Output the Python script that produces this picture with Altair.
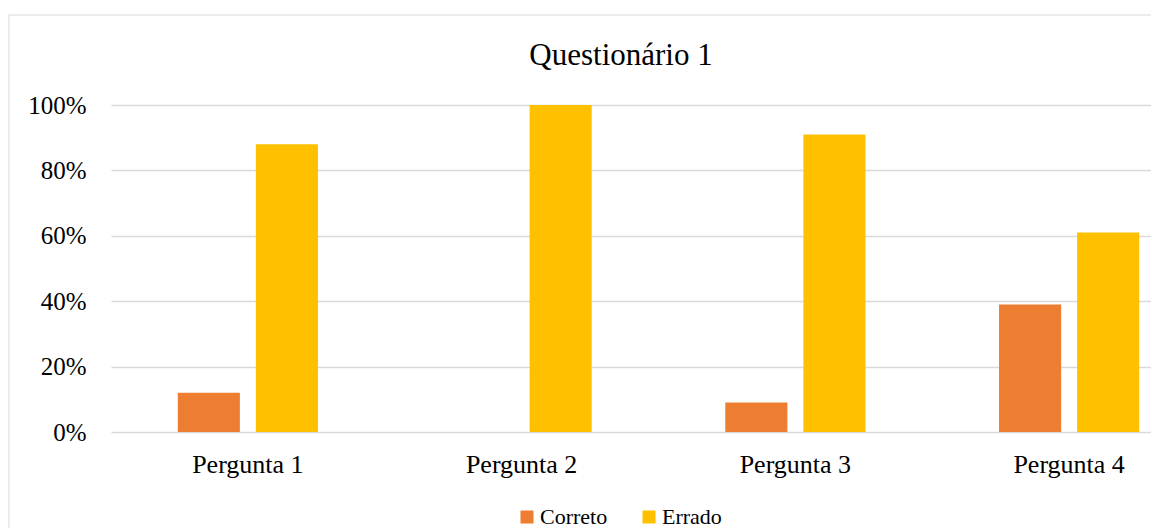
import altair as alt
import pandas as pd

categories = ["Pergunta 1", "Pergunta 2", "Pergunta 3", "Pergunta 4"]
series = ["Correto", "Errado"]
correto = [0.12, 0.0, 0.09, 0.39]
errado = [0.88, 1.0, 0.91, 0.61]
colors = ["#ED7D31", "#FFC000"]
y_ticks = [0, 0.2, 0.4, 0.6, 0.8, 1.0]
title_text = "Questionário 1"

rows = []
for c, a, b in zip(categories, correto, errado):
    rows.append({"cat": c, "serie": series[0], "v": a})
    rows.append({"cat": c, "serie": series[1], "v": b})
df = pd.DataFrame(rows)

FONT = "Liberation Serif"
GRID = "#D9D9D9"

one = pd.DataFrame({"a": [0]})

frame = alt.Chart(one).mark_rect(
    filled=False, stroke=GRID, strokeWidth=1
).encode(
    x=alt.value(-102), x2=alt.value(1300), y=alt.value(-90), y2=alt.value(700)
)

title = alt.Chart(one).mark_text(
    font=FONT, fontSize=31, color="#000000", align="center", baseline="alphabetic"
).encode(
    x=alt.value(510), y=alt.value(-40), text=alt.value(title_text)
)

bars = alt.Chart(df).mark_bar().encode(
    x=alt.X(
        "cat:N", sort=categories,
        scale=alt.Scale(range=[0, 1095], paddingInner=0.488, paddingOuter=0.244),
        axis=alt.Axis(title=None, labelAngle=0, domain=False, ticks=False, grid=False,
                      labelFontSize=26, labelPadding=19, labelFont=FONT, labelColor="#000000"),
    ),
    xOffset=alt.XOffset("serie:N", sort=series,
                        scale=alt.Scale(paddingInner=0.205, paddingOuter=0)),
    y=alt.Y(
        "v:Q", scale=alt.Scale(domain=[0, 1]),
        axis=alt.Axis(title=None, values=y_ticks, format=".0%", domain=False, ticks=False,
                      grid=True, gridColor=GRID, gridWidth=1.3,
                      labelFontSize=25, labelPadding=25, labelFont=FONT, labelColor="#000000"),
    ),
    color=alt.Color(
        "serie:N", sort=series,
        scale=alt.Scale(domain=series, range=colors),
        legend=alt.Legend(title=None, orient="none", legendX=405, legendY=401,
                          direction="horizontal", symbolType="square", symbolSize=169,
                          symbolStrokeWidth=0, labelFontSize=22, labelFont=FONT,
                          labelColor="#000000", labelOffset=2, columnPadding=30, padding=0),
    ),
)

chart = alt.layer(frame, title, bars).properties(
    width=1040, height=327,
    autosize=alt.AutoSizeParams(type="none"),
    padding={"left": 111, "top": 105, "right": 0, "bottom": 96},
).configure_view(stroke=None)

chart.save("out.html", embed_options={"renderer": "svg", "actions": False})
